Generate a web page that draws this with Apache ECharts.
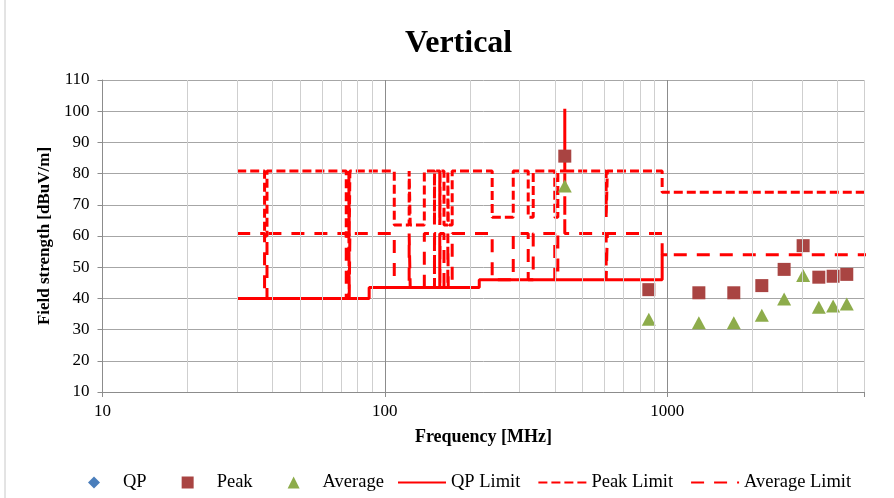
<!DOCTYPE html>
<html><head><meta charset="utf-8">
<script src="https://cdn.jsdelivr.net/npm/echarts@6/dist/echarts.min.js"></script>
<style>html,body{margin:0;padding:0;background:#fff}#c{width:894px;height:498px}</style>
</head><body><div id="c"></div><script>
// Measured frequencies [MHz]
const measFreq = [433.92, 861, 1295, 1722, 2164, 2596, 3031, 3445, 3871, 4327];
// Peak readings [dBuV/m]
const peakVals = [85.6, 42.8, 41.8, 41.8, 44.1, 49.3, 56.9, 46.8, 47.1, 47.7];
// Average readings [dBuV/m]
const avgVals = [76.0, 33.3, 32.2, 32.2, 34.6, 39.8, 47.3, 37.2, 37.6, 38.2];
// QP readings (none)
const qpVals = [];

// QP limit (step line) [freq, level]
const qpLimit = [[30,40],[88,40],[88,43.5],[216,43.5],[216,46],[960,46],[960,54],[1000,54]];
// Peak limit (step line) [freq, level]
const peakLimit = [
  [30,80.8],[37.5,80.8],[37.5,60],[38.25,60],[38.25,80.8],
  [73,80.8],[73,60],[74.6,60],[74.6,80.8],[74.8,80.8],[74.8,60],[75.2,60],[75.2,80.8],
  [108,80.8],[108,63.5],[121.94,63.5],[121.94,80.8],[123,80.8],[123,63.5],[138,63.5],[138,80.8],
  [149.9,80.8],[149.9,63.5],[150.05,63.5],[150.05,80.8],
  [156.52475,80.8],[156.52475,63.5],[156.52525,63.5],[156.52525,80.8],
  [156.7,80.8],[156.7,63.5],[156.9,63.5],[156.9,80.8],
  [162.0125,80.8],[162.0125,63.5],[167.17,63.5],[167.17,80.8],
  [167.72,80.8],[167.72,63.5],[173.2,63.5],[173.2,80.8],
  [240,80.8],[240,66],[285,66],[285,80.8],
  [322,80.8],[322,66],[335.4,66],[335.4,80.8],
  [399.9,80.8],[399.9,66],[410,66],[410,80.8],
  [433.92,80.8],[433.92,100.8],[433.92,80.8],
  [608,80.8],[608,66],[614,66],[614,80.8],
  [960,80.8],[960,74],[10000,74]
];
// Average limit (step line) [freq, level]
const avgLimit = [
  [30,60.8],[37.5,60.8],[37.5,40],[38.25,40],[38.25,60.8],
  [73,60.8],[73,40],[74.6,40],[74.6,60.8],[74.8,60.8],[74.8,40],[75.2,40],[75.2,60.8],
  [108,60.8],[108,43.5],[121.94,43.5],[121.94,60.8],[123,60.8],[123,43.5],[138,43.5],[138,60.8],
  [149.9,60.8],[149.9,43.5],[150.05,43.5],[150.05,60.8],
  [156.52475,60.8],[156.52475,43.5],[156.52525,43.5],[156.52525,60.8],
  [156.7,60.8],[156.7,43.5],[156.9,43.5],[156.9,60.8],
  [162.0125,60.8],[162.0125,43.5],[167.17,43.5],[167.17,60.8],
  [167.72,60.8],[167.72,43.5],[173.2,43.5],[173.2,60.8],
  [240,60.8],[240,46],[285,46],[285,60.8],
  [322,60.8],[322,46],[335.4,46],[335.4,60.8],
  [399.9,60.8],[399.9,46],[410,46],[410,60.8],
  [433.92,60.8],[433.92,80.8],[433.92,60.8],
  [608,60.8],[608,46],[614,46],[614,60.8],
  [960,60.8],[960,54],[10000,54]
];
// Axis ticks
const xMajorTicks = [10, 100, 1000];
const xMinorGrid = [20,30,40,50,60,70,80,90,200,300,400,500,600,700,800,900,2000,3000,4000,5000];
const yMin = 10, yMax = 110, yStep = 10;
const xMin = 10, xMax = 5000;

const FONT = '"Liberation Serif", "Times New Roman", serif';
const chart = echarts.init(document.getElementById('c'), null, {renderer: 'canvas'});

const pair = (fs, vs) => fs.map((f, i) => [f, vs[i]]);
const noDot = {color: 'rgba(0,0,0,0)', borderWidth: 0};
const legendText = {fontFamily: FONT, fontSize: 18.5, color: '#000'};

chart.setOption({
  animation: false,
  backgroundColor: '#fff',
  title: {
    text: 'Vertical', left: 400, top: 23,
    textStyle: {fontFamily: FONT, fontSize: 32, fontWeight: 'bold', color: '#000'}
  },
  graphic: [{
    type: 'rect', shape: {x: 5, y: -10, width: 1000, height: 1000},
    style: {fill: 'none', stroke: '#c8c8c8', lineWidth: 1}, silent: true, z: -1
  }],
  grid: {left: 102.5, right: 29.5, top: 80, bottom: 106, containLabel: false},
  legend: [
    {
      top: 468, left: 83, itemWidth: 12, itemHeight: 12, itemGap: 35,
      textStyle: Object.assign({padding: [0, 0, 0, 18]}, legendText),
      data: [
        {name: 'QP', icon: 'diamond', itemStyle: {color: '#4a7ebb'}},
        {name: 'Peak', icon: 'rect', itemStyle: {color: '#a94442'}},
        {name: 'Average', icon: 'triangle', itemStyle: {color: '#8dac4b'}}
      ]
    },
    {
      top: 468, left: 392, itemWidth: 48, itemHeight: 12, itemGap: 17,
      textStyle: legendText,
      data: [
        {name: 'QP Limit', itemStyle: noDot},
        {name: 'Peak Limit', itemStyle: noDot},
        {name: 'Average Limit', itemStyle: noDot}
      ]
    }
  ],
  xAxis: {
    type: 'log', logBase: 10, min: xMin, max: xMax,
    name: 'Frequency [MHz]', nameLocation: 'middle', nameGap: 36,
    nameTextStyle: {fontFamily: FONT, fontSize: 18, fontWeight: 'bold', color: '#000'},
    axisLine: {show: true, onZero: false, lineStyle: {color: '#8c8c8c', width: 1}},
    axisTick: {show: true, length: 5, lineStyle: {color: '#8c8c8c'}},
    axisLabel: {
      fontFamily: FONT, fontSize: 17, color: '#000', margin: 11,
      formatter: v => xMajorTicks.some(t => Math.abs(v - t) / t < 1e-6) ? String(Math.round(v)) : ''
    },
    splitLine: {show: true, lineStyle: {color: '#8c8c8c', width: 1}},
    minorTick: {show: false}, minorSplitLine: {show: false}
  },
  yAxis: {
    type: 'value', min: yMin, max: yMax, interval: yStep,
    name: 'Field strength [dBuV/m]', nameLocation: 'middle', nameGap: 48, nameRotate: 90,
    nameTextStyle: {fontFamily: FONT, fontSize: 17, fontWeight: 'bold', color: '#000'},
    axisLine: {show: true, lineStyle: {color: '#8c8c8c', width: 1}},
    axisTick: {show: true, length: 5, lineStyle: {color: '#8c8c8c'}},
    axisLabel: {fontFamily: FONT, fontSize: 17, color: '#000', margin: 13},
    splitLine: {show: true, lineStyle: {color: '#a6a6a6', width: 1}}
  },
  series: [
    {
      name: 'minorGrid', type: 'line', data: [], z: 1, silent: true,
      markLine: {
        silent: true, symbol: ['none', 'none'], animation: false,
        label: {show: false},
        lineStyle: {color: '#cfcfcf', width: 1, type: 'solid'},
        data: xMinorGrid.map(v => ({xAxis: v}))
      }
    },
    {
      name: 'QP Limit', type: 'line', data: qpLimit, symbol: 'none', clip: false, z: 3,
      itemStyle: {color: '#ff0000'},
      lineStyle: {color: '#ff0000', width: 3, type: 'solid'}
    },
    {
      name: 'Peak Limit', type: 'line', data: peakLimit, symbol: 'none', clip: false, z: 3,
      itemStyle: {color: '#ff0000'},
      lineStyle: {color: '#ff0000', width: 3, type: [9, 4]}
    },
    {
      name: 'Average Limit', type: 'line', data: avgLimit, symbol: 'none', clip: false, z: 3,
      itemStyle: {color: '#ff0000'},
      lineStyle: {color: '#ff0000', width: 3, type: [13, 10]}
    },
    {
      name: 'QP', type: 'scatter', data: pair([], qpVals), symbol: 'diamond', symbolSize: [10, 13], z: 4,
      itemStyle: {color: '#4a7ebb', opacity: 1}
    },
    {
      name: 'Peak', type: 'scatter', data: pair(measFreq, peakVals), symbol: 'rect', symbolSize: 13, z: 4,
      itemStyle: {color: '#a94442', opacity: 1}
    },
    {
      name: 'Average', type: 'scatter', data: pair(measFreq, avgVals), symbol: 'triangle', symbolSize: [14, 13], z: 4,
      itemStyle: {color: '#8dac4b', opacity: 1}
    }
  ]
});
</script></body></html>
